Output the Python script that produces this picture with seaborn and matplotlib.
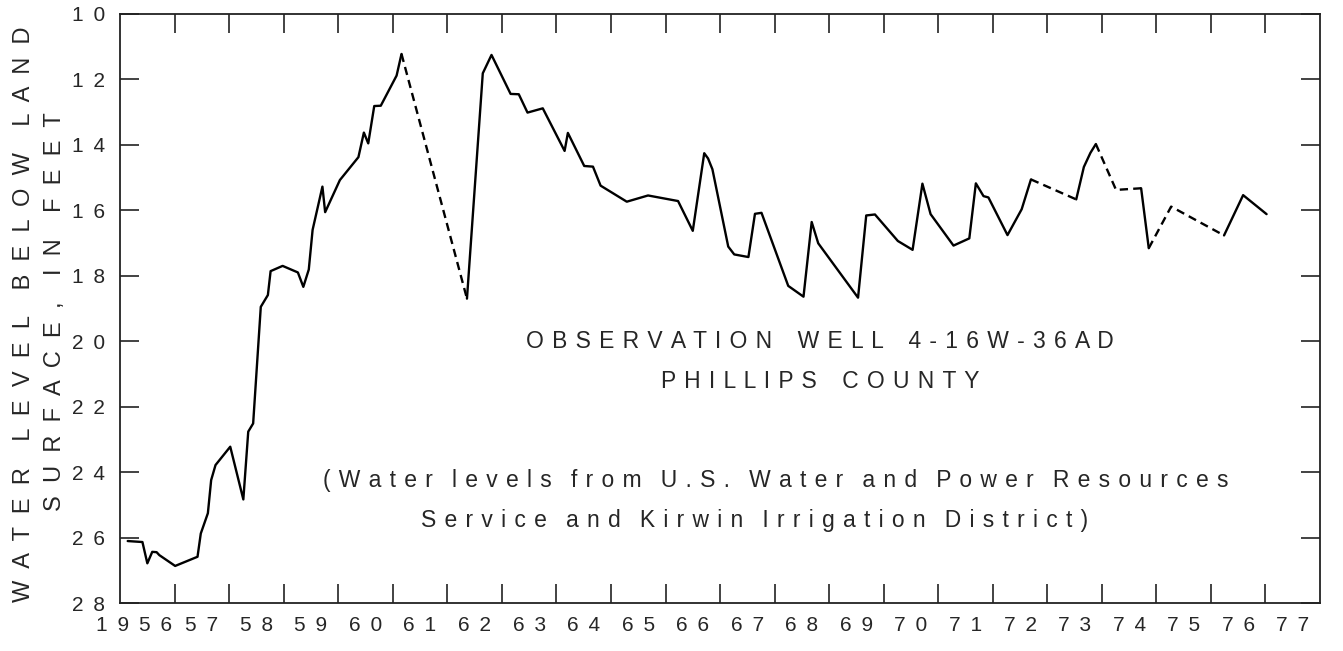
import numpy as np
import pandas as pd
import matplotlib
matplotlib.use("Agg")
import matplotlib.pyplot as plt
import seaborn as sns

# Hydrograph values (decimal year, depth in feet)
years = [1956.14, 1956.41, 1956.50, 1956.59, 1956.67, 1956.72, 1957.01, 1957.42,
         1957.48, 1957.61, 1957.67, 1957.75, 1958.02, 1958.26, 1958.35, 1958.44,
         1958.58, 1958.71, 1958.76, 1958.98, 1959.26, 1959.36, 1959.46, 1959.53,
         1959.71, 1959.76, 1960.03, 1960.37, 1960.47, 1960.55, 1960.66, 1960.78,
         1961.07, 1961.16, 1962.36, 1962.65, 1962.81, 1963.16, 1963.31, 1963.47,
         1963.75, 1964.15, 1964.21, 1964.51, 1964.67, 1964.81, 1965.29, 1965.68,
         1966.23, 1966.50, 1966.71, 1966.78, 1966.86, 1967.15, 1967.26, 1967.52,
         1967.64, 1967.76, 1968.25, 1968.53, 1968.68, 1968.80, 1969.53, 1969.68,
         1969.84, 1970.26, 1970.53, 1970.71, 1970.86, 1971.28, 1971.57, 1971.69,
         1971.83, 1971.92, 1972.27, 1972.53, 1972.70, 1973.53, 1973.67, 1973.79,
         1973.89, 1974.26, 1974.72, 1974.86, 1975.27, 1976.24, 1976.59, 1977.02]
depth = [26.10, 26.13, 26.78, 26.43, 26.44, 26.53, 26.86, 26.58,
         25.87, 25.25, 24.24, 23.78, 23.22, 24.83, 22.76, 22.51,
         18.95, 18.59, 17.86, 17.70, 17.90, 18.34, 17.81, 16.60,
         15.28, 16.06, 15.08, 14.38, 13.63, 13.96, 12.82, 12.81,
         11.89, 11.23, 18.70, 11.82, 11.26, 12.45, 12.46, 13.02,
         12.89, 14.19, 13.64, 14.65, 14.67, 15.25, 15.74, 15.55,
         15.72, 16.63, 14.26, 14.42, 14.75, 17.11, 17.35, 17.43,
         16.11, 16.08, 18.31, 18.64, 16.36, 17.01, 18.67, 16.16,
         16.13, 16.94, 17.21, 15.19, 16.12, 17.08, 16.86, 15.18,
         15.57, 15.61, 16.76, 15.97, 15.06, 15.67, 14.68, 14.25,
         13.98, 15.38, 15.33, 17.16, 15.89, 16.77, 15.54, 16.12]

# gaps in the record are drawn dashed: (first point, last point)
dashed_spans = [(33, 34), (76, 77), (80, 82), (83, 85)]

year_labels = ["1956"] + [str(y)[2:] for y in range(1957, 1978)]
depth_ticks = list(range(10, 30, 2))

df = pd.DataFrame({"year": years, "depth": depth})

HAIR = " \u200a"
THIN = " \u2009"


def spread(s, sep=" ", word_sep="    "):
    # letter-spaced look of the old lettering
    return word_sep.join(sep.join(w) for w in s.split(" "))


sns.set_style("ticks")
plt.rcParams["font.family"] = ["Liberation Sans", "DejaVu Sans"]

fig = plt.figure(figsize=(13.43, 6.51), dpi=100)
ax = fig.add_axes([0.0894, 0.0733, 0.8935, 0.9057])

# split into solid / dashed pieces
pieces = []
start = 0
for a, b in dashed_spans:
    if a > start:
        pieces.append((start, a, "-"))
    pieces.append((a, b, (0, (3.5, 2.2))))
    start = b
pieces.append((start, len(df) - 1, "-"))

for a, b, ls in pieces:
    part = df.iloc[a:b + 1]
    sns.lineplot(data=part, x="year", y="depth", ax=ax, color="black",
                 linewidth=1.7, linestyle=ls, sort=False, estimator=None)

ax.set_xlim(1956, 1978)
ax.set_ylim(28, 10)

# year boundaries as ticks, labels centred in each year
ax.set_xticks(range(1957, 1978))
ax.set_xticklabels([])
ax.set_xticks([1956.95] + [y + 0.5 for y in range(1957, 1978)], minor=True)
ax.set_xticklabels([spread(t, THIN) for t in year_labels], minor=True)
ax.get_xticklabels(minor=True)[0].set_horizontalalignment("right")
ax.tick_params(axis="x", which="major", direction="in", length=14, width=1.2,
               top=True, bottom=True, color="#222222")
ax.tick_params(axis="x", which="minor", length=0, pad=9, labelsize=15)

ax.set_yticks(depth_ticks)
ax.set_yticklabels([spread(str(t), THIN) for t in depth_ticks])
ax.tick_params(axis="y", direction="in", length=14, width=1.2, left=True,
               right=True, pad=11, labelsize=15, color="#222222")

for sp in ax.spines.values():
    sp.set_visible(True)
    sp.set_linewidth(1.3)
    sp.set_color("#222222")

ax.set_xlabel("")
ax.set_ylabel("")

fig.text(0.0175, 0.517, spread("WATER LEVEL BELOW LAND", "  "), rotation=90,
         ha="center", va="center", fontsize=17)
fig.text(0.0412, 0.522, spread("SURFACE, IN FEET", "  "), rotation=90,
         ha="center", va="center", fontsize=17)

ax.text(1968.83, 20.02, spread("OBSERVATION WELL 4-16W-36AD", HAIR),
        ha="center", va="center", fontsize=16.5)
ax.text(1968.83, 21.22, spread("PHILLIPS COUNTY", HAIR),
        ha="center", va="center", fontsize=16.5)
ax.text(1968.03, 24.24,
        spread("(Water levels from U.S. Water and Power Resources", HAIR, "   "),
        ha="center", va="center", fontsize=16.5)
ax.text(1967.64, 25.46,
        spread("Service and Kirwin Irrigation District)", HAIR, "   "),
        ha="center", va="center", fontsize=16.5)

fig.savefig("out.png", dpi=100)
